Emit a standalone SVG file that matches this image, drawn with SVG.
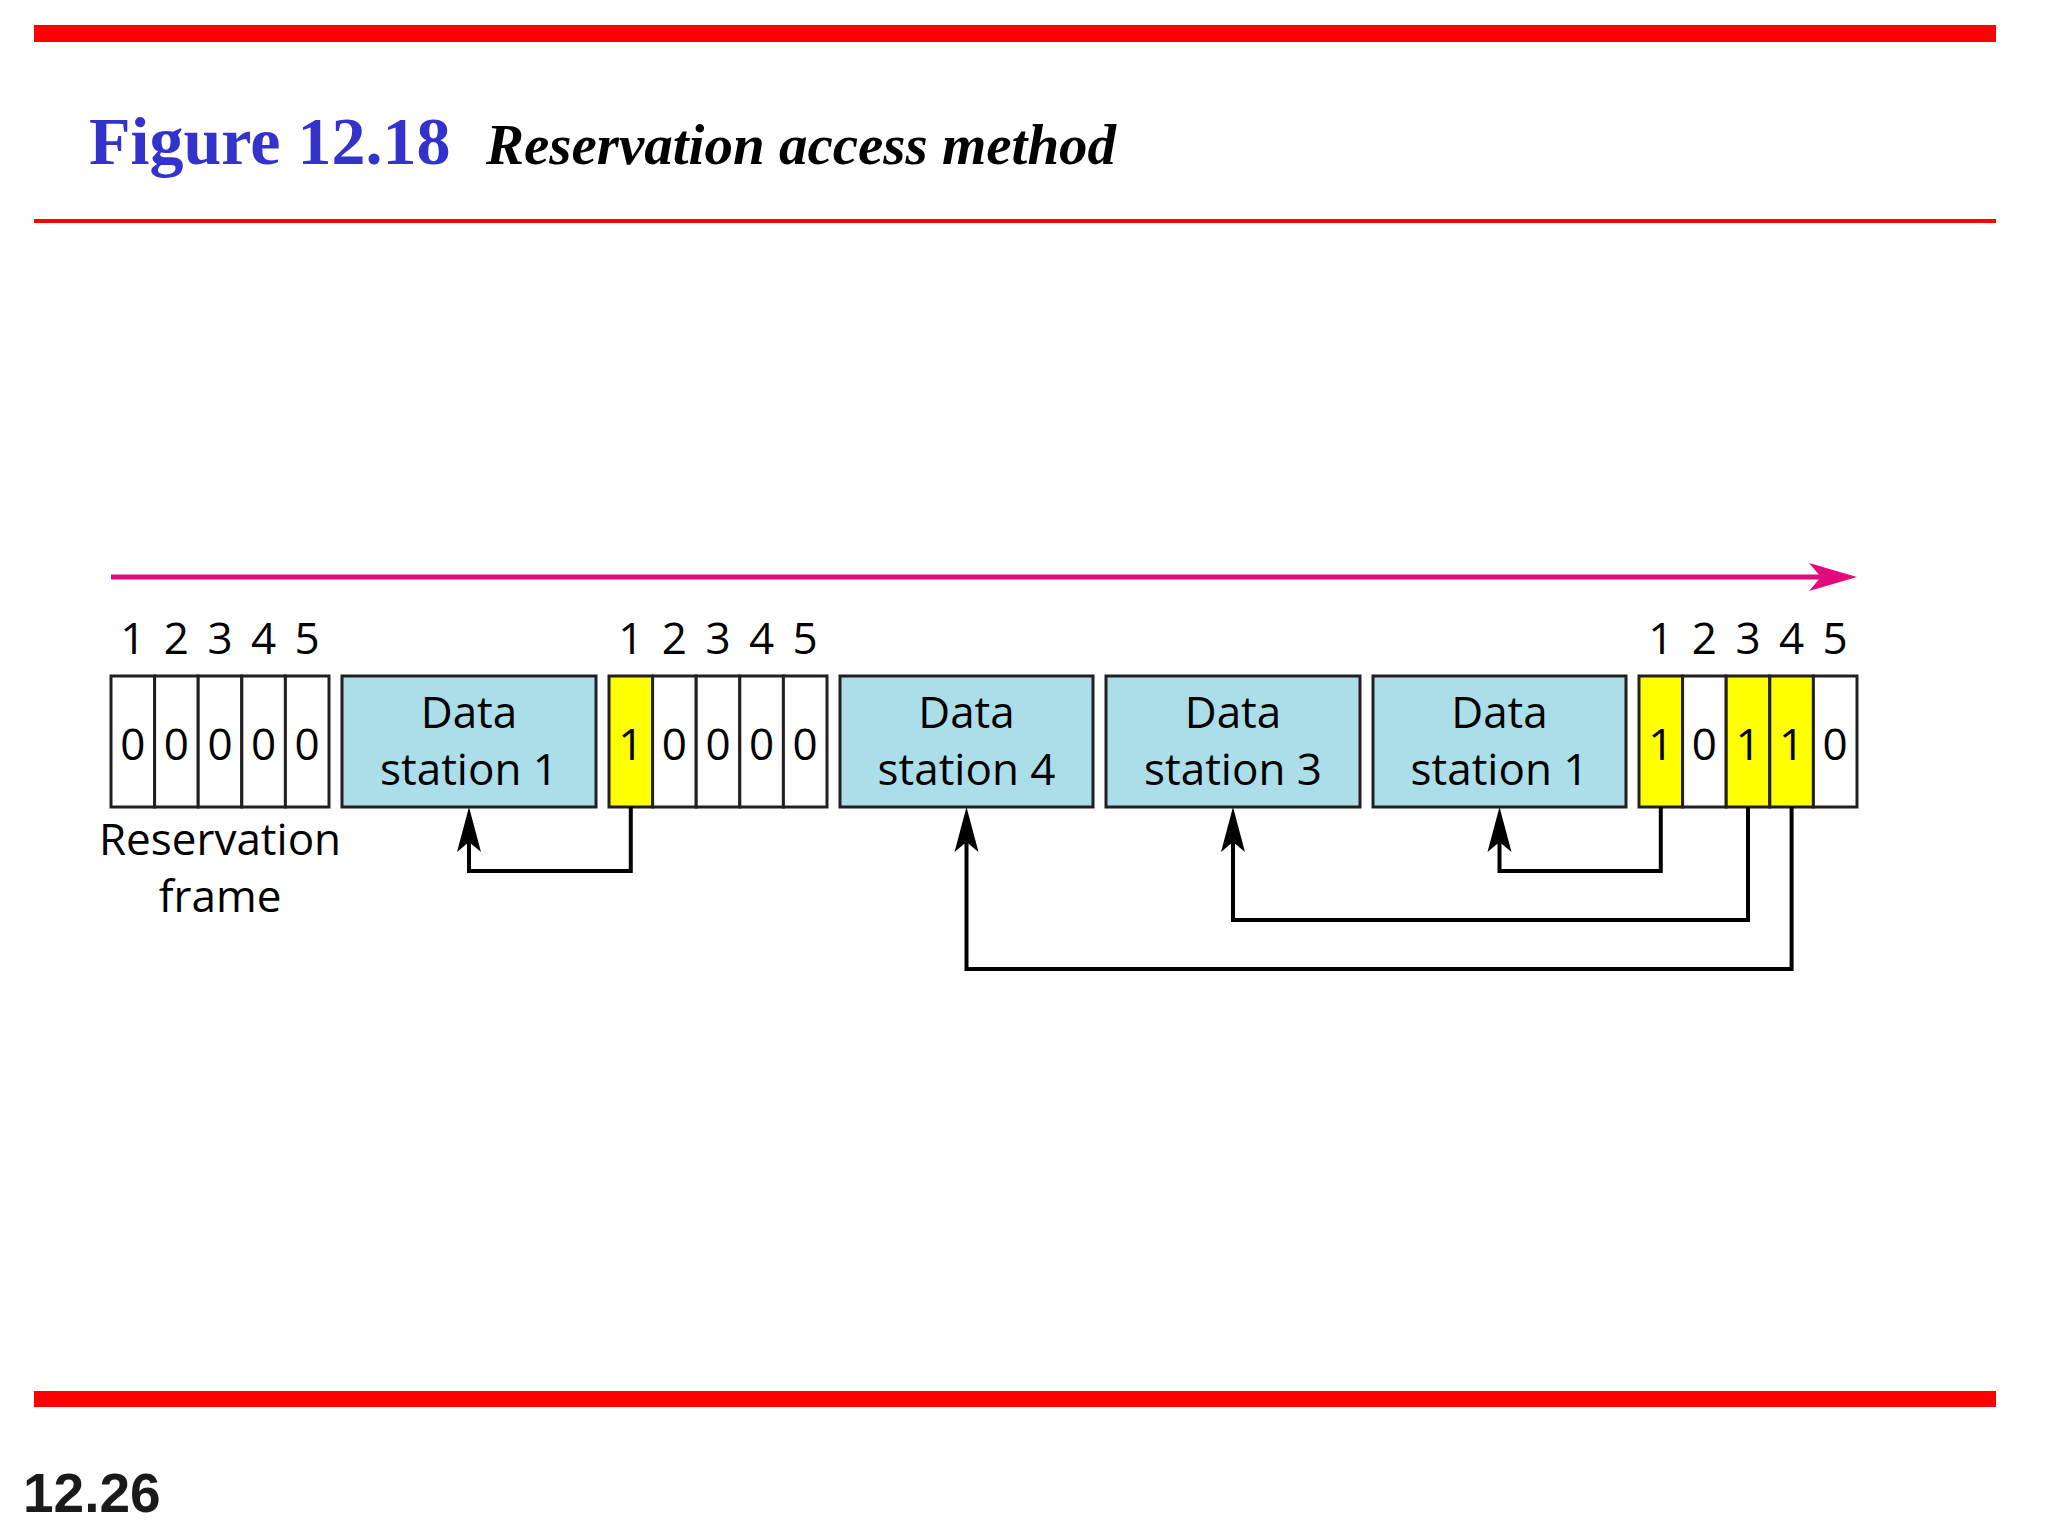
<svg xmlns="http://www.w3.org/2000/svg" width="2048" height="1536" viewBox="0 0 2048 1536">
<style>
.lbl{font-family:"Open Sans","Noto Sans",sans-serif;font-size:44px;fill:#000;text-anchor:middle}
.cell{fill:#FFFFFF;stroke:#231F20;stroke-width:3}
.yel{fill:#FFFF00;stroke:#231F20;stroke-width:3}
.data{fill:#ABDEE8;stroke:#231F20;stroke-width:3}
.conn{fill:none;stroke:#000;stroke-width:4;stroke-linejoin:miter}
</style>
<defs>
<marker id="ah" markerUnits="userSpaceOnUse" orient="auto" refX="0" refY="0" markerWidth="60" markerHeight="40" viewBox="-15 -20 60 40" overflow="visible">
<path d="M35,0 L-10,-12 L0,0 L-10,12 Z" fill="#000"/>
</marker>
</defs>
<rect width="2048" height="1536" fill="#FFFFFF"/>
<rect x="34" y="25" width="1962" height="17" fill="#FF0000"/>
<rect x="34" y="219" width="1962" height="4" fill="#FF0000"/>
<rect x="34" y="1391" width="1962" height="16" fill="#FF0000"/>
<text x="89" y="164" font-family="Liberation Serif,serif" font-weight="bold" font-size="68" fill="#3333CC">Figure 12.18</text>
<text x="486" y="164" font-family="Liberation Serif,serif" font-weight="bold" font-style="italic" font-size="57" fill="#000">Reservation access method</text>
<text x="23" y="1512" font-family="Liberation Sans,sans-serif" font-weight="bold" font-size="55" fill="#1A1A1A">12.26</text>
<g id="timeline">
<line x1="111" y1="577" x2="1825" y2="577" stroke="#E4097D" stroke-width="5"/>
<path d="M1857,577 L1809,563 L1821,577 L1809,591 Z" fill="#E4097D"/>
</g>
<g id="frame1">
<rect class="cell" x="111" y="676" width="43.6" height="131"/>
<rect class="cell" x="154.6" y="676" width="43.6" height="131"/>
<rect class="cell" x="198.2" y="676" width="43.6" height="131"/>
<rect class="cell" x="241.8" y="676" width="43.6" height="131"/>
<rect class="cell" x="285.4" y="676" width="43.6" height="131"/>
<text class="lbl" x="132.8" y="654">1</text><text class="lbl" x="176.4" y="654">2</text><text class="lbl" x="220" y="654">3</text><text class="lbl" x="263.6" y="654">4</text><text class="lbl" x="307.2" y="654">5</text>
<text class="lbl" x="132.8" y="760">0</text><text class="lbl" x="176.4" y="760">0</text><text class="lbl" x="220" y="760">0</text><text class="lbl" x="263.6" y="760">0</text><text class="lbl" x="307.2" y="760">0</text>
<text class="lbl" x="220" y="855">Reservation</text>
<text class="lbl" x="220" y="912">frame</text>
</g>
<g id="data1a">
<rect class="data" x="342" y="676" width="254" height="131"/>
<text class="lbl" x="469" y="728">Data</text>
<text class="lbl" x="469" y="785">station 1</text>
</g>
<g id="frame2">
<rect class="yel" x="609" y="676" width="43.6" height="131"/>
<rect class="cell" x="652.6" y="676" width="43.6" height="131"/>
<rect class="cell" x="696.2" y="676" width="43.6" height="131"/>
<rect class="cell" x="739.8" y="676" width="43.6" height="131"/>
<rect class="cell" x="783.4" y="676" width="43.6" height="131"/>
<text class="lbl" x="630.8" y="654">1</text><text class="lbl" x="674.4" y="654">2</text><text class="lbl" x="718" y="654">3</text><text class="lbl" x="761.6" y="654">4</text><text class="lbl" x="805.2" y="654">5</text>
<text class="lbl" x="630.8" y="760">1</text><text class="lbl" x="674.4" y="760">0</text><text class="lbl" x="718" y="760">0</text><text class="lbl" x="761.6" y="760">0</text><text class="lbl" x="805.2" y="760">0</text>
</g>
<g id="data4">
<rect class="data" x="840" y="676" width="253" height="131"/>
<text class="lbl" x="966.5" y="728">Data</text>
<text class="lbl" x="966.5" y="785">station 4</text>
</g>
<g id="data3">
<rect class="data" x="1106" y="676" width="254" height="131"/>
<text class="lbl" x="1233" y="728">Data</text>
<text class="lbl" x="1233" y="785">station 3</text>
</g>
<g id="data1b">
<rect class="data" x="1373" y="676" width="253" height="131"/>
<text class="lbl" x="1499.5" y="728">Data</text>
<text class="lbl" x="1499.5" y="785">station 1</text>
</g>
<g id="frame3">
<rect class="yel" x="1639" y="676" width="43.6" height="131"/>
<rect class="cell" x="1682.6" y="676" width="43.6" height="131"/>
<rect class="yel" x="1726.2" y="676" width="43.6" height="131"/>
<rect class="yel" x="1769.8" y="676" width="43.6" height="131"/>
<rect class="cell" x="1813.4" y="676" width="43.6" height="131"/>
<text class="lbl" x="1660.8" y="654">1</text><text class="lbl" x="1704.4" y="654">2</text><text class="lbl" x="1748" y="654">3</text><text class="lbl" x="1791.6" y="654">4</text><text class="lbl" x="1835.2" y="654">5</text>
<text class="lbl" x="1660.8" y="760">1</text><text class="lbl" x="1704.4" y="760">0</text><text class="lbl" x="1748" y="760">1</text><text class="lbl" x="1791.6" y="760">1</text><text class="lbl" x="1835.2" y="760">0</text>
</g>
<g id="connectors">
<path class="conn" d="M630.8,807 V871 H469 V842" marker-end="url(#ah)"/>
<path class="conn" d="M1660.8,807 V871 H1499.5 V842" marker-end="url(#ah)"/>
<path class="conn" d="M1748,807 V920 H1233 V842" marker-end="url(#ah)"/>
<path class="conn" d="M1791.6,807 V969 H966.5 V842" marker-end="url(#ah)"/>
</g>
</svg>
